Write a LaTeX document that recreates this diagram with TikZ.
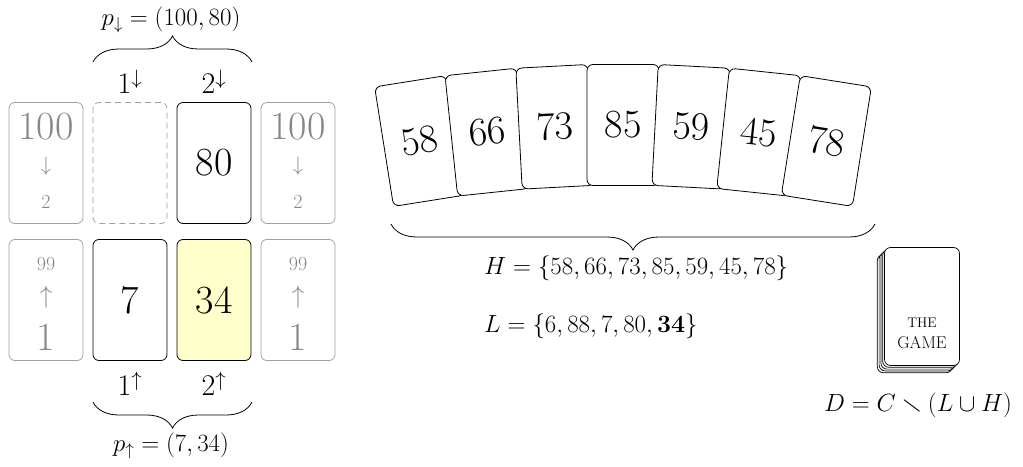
\documentclass[tikz,border=0pt]{standalone}
\usepackage{amssymb}
\usepackage{bm}
\usetikzlibrary{decorations.pathreplacing,calc}
\definecolor{cardgray}{RGB}{160,160,160}
\definecolor{txtgray}{RGB}{135,135,135}
\definecolor{cardyellow}{RGB}{255,255,204}
\tikzset{
  card/.style={draw=black, rounded corners=6pt, minimum width=74pt, minimum height=121pt,
    inner sep=0pt, line width=0.8pt, font=\fontsize{40}{44}\selectfont},
  graycard/.style={card, draw=cardgray},
  dashcard/.style={card, draw=cardgray, dash pattern=on 6pt off 4pt},
  handcard/.style={card, fill=white, minimum width=72pt},
  deckcard/.style={card, fill=white, minimum width=75pt, minimum height=118pt, line width=0.7pt},
  gtxt/.style={text=txtgray, inner sep=0pt},
  lbl/.style={inner sep=0pt, font=\fontsize{30}{34}\selectfont},
  ptxt/.style={inner sep=0pt, font=\fontsize{24}{28}\selectfont},
  brc/.style={decorate, decoration={brace, amplitude=26pt}, line width=0.8pt},
  brcm/.style={decorate, decoration={brace, mirror, amplitude=26pt}, line width=0.8pt},
}
\begin{document}
\begin{tikzpicture}[x=1pt,y=-1pt]
\useasboundingbox (0,0) rectangle (1023,466);
% ---- piles: top row
\node[graycard] (g1) at (46,163) {};
\node[dashcard] (d1) at (130,163) {};
\node[card] (d2) at (214,163) {80};
\node[graycard] (g2) at (298,163) {};
% ---- piles: bottom row
\node[graycard] (g3) at (46,300) {};
\node[card] (u1) at (130,300) {7};
\node[card, fill=cardyellow] (u2) at (214,300) {34};
\node[graycard] (g4) at (298,300) {};
% gray card texts
\foreach \g in {g1,g2}{
  \node[gtxt, font=\fontsize{40}{44}\selectfont] (\g a) at ($(\g)+(0,-36)$) {100};
  \node[gtxt, font=\fontsize{22}{26}\selectfont] (\g b) at ($(\g)+(0,3)$) {$\downarrow$};
  \node[gtxt, font=\fontsize{20}{24}\selectfont] (\g c) at ($(\g)+(0,39)$) {2};
}
\foreach \g in {g3,g4}{
  \node[gtxt, font=\fontsize{20}{24}\selectfont] (\g a) at ($(\g)+(0,-36)$) {99};
  \node[gtxt, font=\fontsize{32}{36}\selectfont] (\g b) at ($(\g)+(0,-3)$) {$\uparrow$};
  \node[gtxt, font=\fontsize{40}{44}\selectfont] (\g c) at ($(\g)+(0,37)$) {1};
}
% pile labels
\node[lbl] (l1) at (130,82) {1$^{\downarrow}$};
\node[lbl] (l2) at (214,82) {2$^{\downarrow}$};
\node[lbl] (l3) at (130,384) {1$^{\uparrow}$};
\node[lbl] (l4) at (214,384) {2$^{\uparrow}$};
% braces
\coordinate (tb1) at (93,62);
\coordinate (tb2) at (252,62);
\draw[brc] (tb1) -- (tb2);
\node[ptxt] (pd) at (171,20) {$p_{\downarrow} = (100,80)$};
\coordinate (bb1) at (93,402);
\coordinate (bb2) at (252,402);
\draw[brcm] (bb1) -- (bb2);
\node[ptxt] (pu) at (171,446) {$p_{\uparrow} = (7,34)$};
% ---- hand
\coordinate (pivot) at (623,1425);
\foreach \v [count=\i] in {58,66,73,85,59,45,78}{
  \pgfmathsetmacro\a{3*(\i-4)}
  \pgfmathsetmacro\b{-3*(\i-4)}
  \node[handcard, rotate=\b] (h\i) at ($(pivot)+({1300*sin(\a)},{-1300*cos(\a)})$) {\v};
}
\coordinate (hb1) at (391,224);
\coordinate (hb2) at (875,224);
\draw[brcm] (hb1) -- (hb2);
\node[ptxt, anchor=west] (H) at (484,268) {$H = \{58,66,73,85,59,45,78\}$};
\node[ptxt, anchor=west] (L) at (484,326) {$L = \{6,88,7,80,\mathbf{34}\}$};
% ---- deck
\foreach \o in {4,3,2,1}{
  \node[deckcard] (k\o) at ({922-1.8*\o},{306.5+1.8*\o}) {};
}
\node[deckcard] (deck) at (922,306.5) {};
\node[inner sep=0pt, font=\fontsize{14}{16}\selectfont] (the) at (922,323) {THE};
\node[inner sep=0pt, font=\fontsize{17}{20}\selectfont] (game) at (922,343) {GAME};
\node[inner sep=0pt, font=\fontsize{27}{30}\selectfont] (D) at (918,405) {$D = C \smallsetminus (L \cup H)$};
\end{tikzpicture}
\end{document}
